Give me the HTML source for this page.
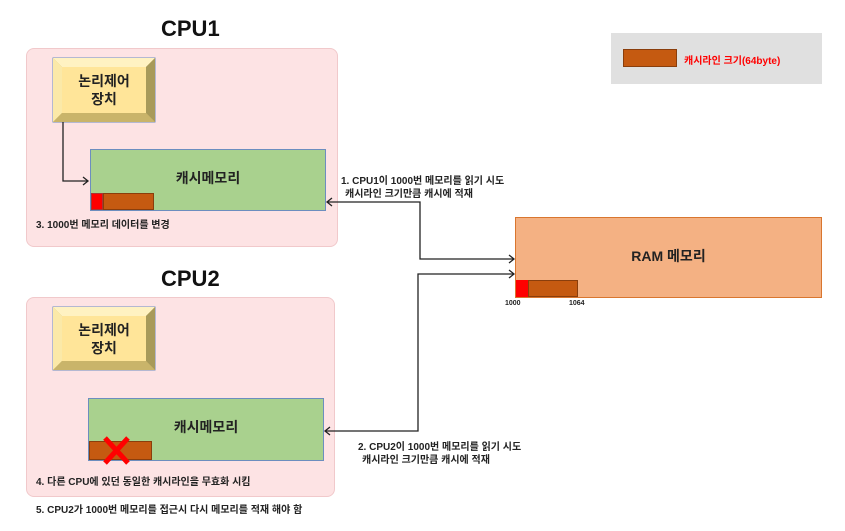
<!DOCTYPE html>
<html><head><meta charset="utf-8"><style>
body{margin:0;width:845px;height:531px;background:#fff;position:relative;overflow:hidden;font-family:"Liberation Sans","Noto Sans CJK KR",sans-serif;}
.a{position:absolute;}
.panel{background:#fde3e4;border:1px solid #f1c9cb;border-radius:8px;}
.title{font-size:22px;font-weight:bold;color:#111;}
.cache{background:#a9d18e;border:1px solid #6c8ebf;font-size:14px;font-weight:bold;display:flex;align-items:center;justify-content:center;box-sizing:border-box;color:#222;}
.t{font-size:10px;font-weight:bold;color:#222;white-space:nowrap;}
.logic{box-sizing:border-box;border:1px solid #6c8ebf;background:#fff2b3;}
</style></head><body>
<div class="a title" style="left:161px;top:16px;">CPU1</div>
<div class="a title" style="left:161px;top:266px;">CPU2</div>
<div class="a panel" style="left:26px;top:48px;width:310px;height:197px;"></div>
<div class="a panel" style="left:26px;top:297px;width:307px;height:198px;"></div>

<svg class="a" style="left:0;top:0" width="845" height="531">
 <g>
  <rect x="53" y="58" width="102" height="64" fill="#c9b46a" stroke="#6c8ebf"/>
  <polygon points="53,58 155,58 146,67 62,67" fill="#fff2c2"/>
  <polygon points="53,58 62,67 62,113 53,122" fill="#fbe9a8"/>
  <polygon points="155,58 146,67 146,113 155,122" fill="#a89a5a"/>
  <polygon points="53,122 62,113 146,113 155,122" fill="#c9b46a"/>
  <rect x="62" y="67" width="84" height="46" fill="#ffe599"/>
  <rect x="53" y="307" width="102" height="63" fill="#c9b46a" stroke="#6c8ebf"/>
  <polygon points="53,307 155,307 146,316 62,316" fill="#fff2c2"/>
  <polygon points="53,307 62,316 62,361 53,370" fill="#fbe9a8"/>
  <polygon points="155,307 146,316 146,361 155,370" fill="#a89a5a"/>
  <polygon points="53,370 62,361 146,361 155,370" fill="#c9b46a"/>
  <rect x="62" y="316" width="84" height="45" fill="#ffe599"/>
 </g>
 <text x="104" y="86" font-size="14" font-weight="bold" text-anchor="middle" fill="#222" font-family="Liberation Sans, Noto Sans CJK KR, sans-serif">논리제어</text>
 <text x="104" y="104" font-size="14" font-weight="bold" text-anchor="middle" fill="#222" font-family="Liberation Sans, Noto Sans CJK KR, sans-serif">장치</text>
 <text x="104" y="335" font-size="14" font-weight="bold" text-anchor="middle" fill="#222" font-family="Liberation Sans, Noto Sans CJK KR, sans-serif">논리제어</text>
 <text x="104" y="353" font-size="14" font-weight="bold" text-anchor="middle" fill="#222" font-family="Liberation Sans, Noto Sans CJK KR, sans-serif">장치</text>
</svg>

<div class="a cache" style="left:90px;top:149px;width:236px;height:62px;padding-bottom:4px;">캐시메모리</div>
<div class="a" style="left:91px;top:193px;width:12px;height:17px;background:#f00;border:1px solid #a33;box-sizing:border-box;"></div>
<div class="a" style="left:103px;top:193px;width:51px;height:17px;background:#c55a11;border:1px solid #8a3e0c;box-sizing:border-box;"></div>
<div class="a t" style="left:36px;top:216px;">3. 1000번 메모리 데이터를 변경</div>

<div class="a cache" style="left:88px;top:398px;width:236px;height:63px;padding-bottom:6px;">캐시메모리</div>
<div class="a" style="left:89px;top:441px;width:63px;height:19px;background:#c55a11;border:1px solid #8a3e0c;box-sizing:border-box;"></div>
<div class="a t" style="left:36px;top:473px;">4. 다른 CPU에 있던 동일한 캐시라인을 무효화 시킴</div>
<div class="a t" style="left:36px;top:501px;">5. CPU2가 1000번 메모리를 접근시 다시 메모리를 적재 해야 함</div>

<div class="a" style="left:515px;top:217px;width:307px;height:81px;background:#f4b183;border:1px solid #d9762f;box-sizing:border-box;display:flex;align-items:center;justify-content:center;font-size:14px;font-weight:bold;color:#222;padding-bottom:4px;">RAM 메모리</div>
<div class="a" style="left:516px;top:280px;width:12px;height:17px;background:#f00;"></div>
<div class="a" style="left:528px;top:280px;width:50px;height:17px;background:#c55a11;border:1px solid #8a3e0c;box-sizing:border-box;"></div>
<div class="a" style="left:505px;top:300px;font-size:7px;font-weight:bold;color:#222;">1000</div>
<div class="a" style="left:569px;top:300px;font-size:7px;font-weight:bold;color:#222;">1064</div>

<div class="a" style="left:611px;top:33px;width:211px;height:51px;background:#e0e0e0;"></div>
<div class="a" style="left:623px;top:49px;width:54px;height:18px;background:#c55a11;border:1px solid #8a3e0c;box-sizing:border-box;"></div>
<div class="a" style="left:684px;top:52px;font-size:10px;font-weight:bold;color:#f00;">캐시라인 크기(64byte)</div>

<div class="a t" style="left:341px;top:172px;">1. CPU1이 1000번 메모리를 읽기 시도</div>
<div class="a t" style="left:345px;top:185px;">캐시라인 크기만큼 캐시에 적재</div>
<div class="a t" style="left:358px;top:438px;">2. CPU2이 1000번 메모리를 읽기 시도</div>
<div class="a t" style="left:362px;top:451px;">캐시라인 크기만큼 캐시에 적재</div>

<svg class="a" style="left:0;top:0" width="845" height="531">
 <g fill="none" stroke="#222" stroke-width="1.3">
  <polyline points="63,122 63,181 88,181"/><polyline points="83,177 88,181 83,185"/>
  <polyline points="514,259 420,259 420,202 327,202"/><polyline points="332,198 327,202 332,206"/><polyline points="509,255 514,259 509,263"/>
  <polyline points="514,274 418,274 418,431 325,431"/><polyline points="330,427 325,431 330,435"/><polyline points="509,270 514,274 509,278"/>
 </g>
 <g stroke="#f00" stroke-width="5"><line x1="105" y1="438" x2="128" y2="463"/><line x1="128" y1="438" x2="105" y2="463"/></g>
</svg>
</body></html>
